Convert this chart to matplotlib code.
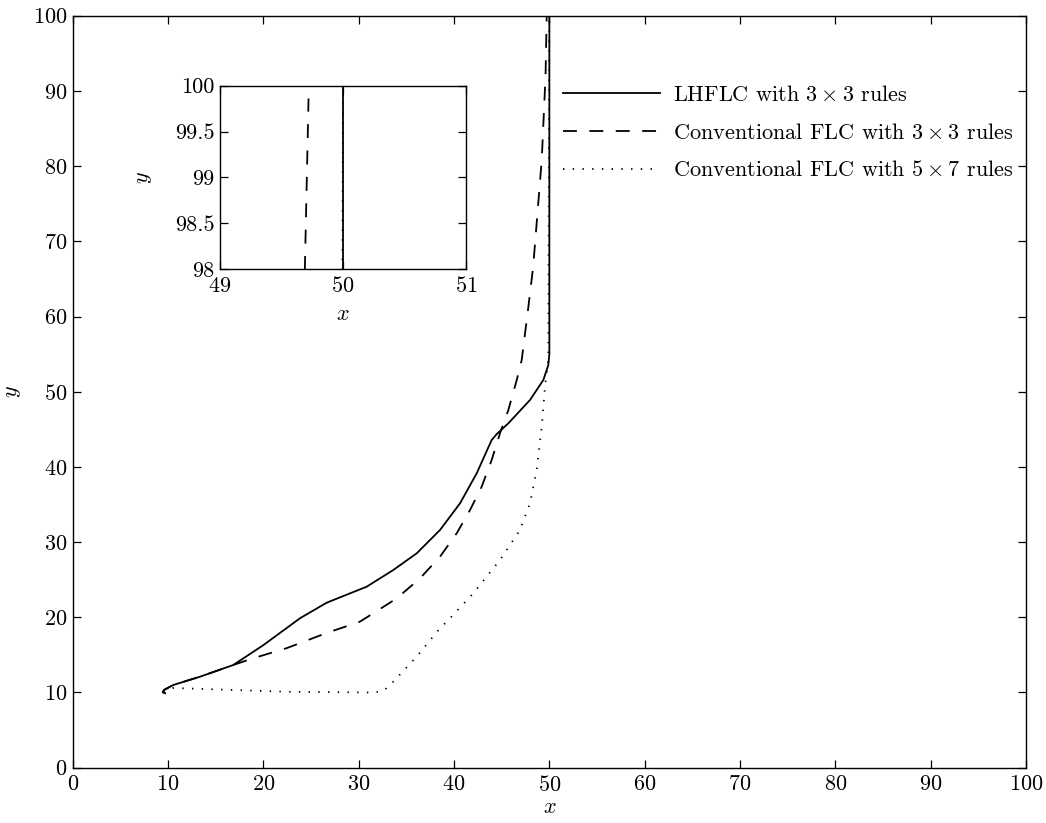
import matplotlib
matplotlib.use("Agg")
import matplotlib.pyplot as plt

plt.rcParams['font.family'] = ['cmr10', 'DejaVu Serif']
plt.rcParams['mathtext.fontset'] = 'cm'
plt.rcParams['axes.formatter.use_mathtext'] = True
plt.rcParams['axes.unicode_minus'] = False
plt.rcParams['lines.scale_dashes'] = False

# Trajectories in the x-y plane
lhflc_x = [9.70, 9.45, 9.60, 10.55, 13.35, 16.85, 20.0, 23.84, 26.64, 30.84,
           33.63, 36.09, 38.53, 40.63, 42.38, 43.95, 44.48, 45.70, 47.97,
           49.37, 49.89, 50.0, 50.0]
lhflc_y = [9.90, 10.05, 10.35, 11.0, 12.1, 13.66, 16.3, 19.87, 21.94, 24.07,
           26.29, 28.51, 31.61, 35.16, 39.15, 43.58, 44.37, 45.80, 48.90,
           51.56, 53.55, 55.0, 100.0]

conv33_x = [9.70, 9.45, 9.60, 10.55, 13.35, 16.85, 18.8, 22.45, 26.6, 30.1,
            31.53, 33.99, 36.43, 38.53, 40.28, 41.68, 42.90, 43.95, 44.82,
            45.70, 46.58, 47.10, 47.8, 48.3, 49.2, 49.6, 49.69, 49.72]
conv33_y = [9.90, 10.05, 10.35, 11.0, 12.1, 13.66, 14.5, 15.9, 17.9, 19.4,
            20.53, 22.52, 25.18, 28.06, 31.17, 34.27, 37.37, 40.92, 44.47,
            47.57, 51.56, 54.22, 61.3, 66.6, 80.8, 92.0, 98.0, 99.86]

conv57_x = [9.5, 10.55, 22.45, 31.5, 32.6, 33.6, 36.1, 38.5, 39.58, 42.02,
            44.82, 46.92, 47.97, 48.67, 49.20, 49.54, 49.89, 50.0]
conv57_y = [10.2, 10.6, 10.1, 10.0, 10.2, 11.4, 14.8, 18.5, 19.87, 23.19,
            27.62, 31.61, 35.16, 39.59, 45.35, 50.67, 54.22, 100.0]

labels = [r'LHFLC with $3\times3$ rules',
          r'Conventional FLC with $3\times3$ rules',
          r'Conventional FLC with $5\times7$ rules']

main_ticks = [0, 10, 20, 30, 40, 50, 60, 70, 80, 90, 100]
inset_xticks = [49, 50, 51]
inset_yticks = [98, 98.5, 99, 99.5, 100]

FS = 16
LW = 1.3
DASH = (10, 9)
DOT = (1.0, 6.0)

fig = plt.figure(figsize=(10.46, 8.23), dpi=100)
ax = fig.add_axes([0.0695, 0.0672, 0.9114, 0.9137])


def style_axes(a):
    a.tick_params(direction='in', length=6, width=0.9, labelsize=FS,
                  top=True, right=True)
    a.tick_params(axis='x', pad=5)
    a.tick_params(axis='y', pad=4)
    for s in a.spines.values():
        s.set_linewidth(1.0)


ax.plot(lhflc_x, lhflc_y, color='black', lw=LW, label=labels[0])
ax.plot(conv33_x, conv33_y, color='black', lw=LW, linestyle=(0, DASH),
        label=labels[1])
ax.plot(conv57_x, conv57_y, color='black', lw=LW, linestyle=(0, DOT),
        label=labels[2])
ax.set_xlim(0, 100)
ax.set_ylim(0, 100)
ax.set_xticks(main_ticks)
ax.set_yticks(main_ticks)
style_axes(ax)
ax.set_xlabel('$x$', fontsize=FS)
ax.set_ylabel('$y$', fontsize=FS)
ax.xaxis.set_label_coords(0.5, -0.040)
ax.yaxis.set_label_coords(-0.052, 0.5)

ax.legend(loc='upper left', bbox_to_anchor=(0.514, 0.908), frameon=False,
          fontsize=FS, handlelength=4.4, handletextpad=0.55,
          labelspacing=0.80, borderaxespad=0.0, borderpad=0.0)

# Zoomed view near the top of the trajectories
axin = fig.add_axes([0.2103, 0.6728, 0.2352, 0.2231])
axin.plot(lhflc_x, lhflc_y, color='black', lw=LW)
axin.plot(conv33_x, conv33_y, color='black', lw=LW, linestyle=(0, DASH))
axin.plot(conv57_x, conv57_y, color='black', lw=LW, linestyle=(0, DOT))
axin.set_xlim(49, 51)
axin.set_ylim(98, 100)
axin.set_xticks(inset_xticks)
axin.set_yticks(inset_yticks)
axin.set_yticklabels(['98', '98.5', '99', '99.5', '100'])
style_axes(axin)
axin.set_xlabel('$x$', fontsize=FS)
axin.set_ylabel('$y$', fontsize=FS)
axin.xaxis.set_label_coords(0.5, -0.19)
axin.yaxis.set_label_coords(-0.27, 0.5)

fig.savefig('out.png', dpi=100)
